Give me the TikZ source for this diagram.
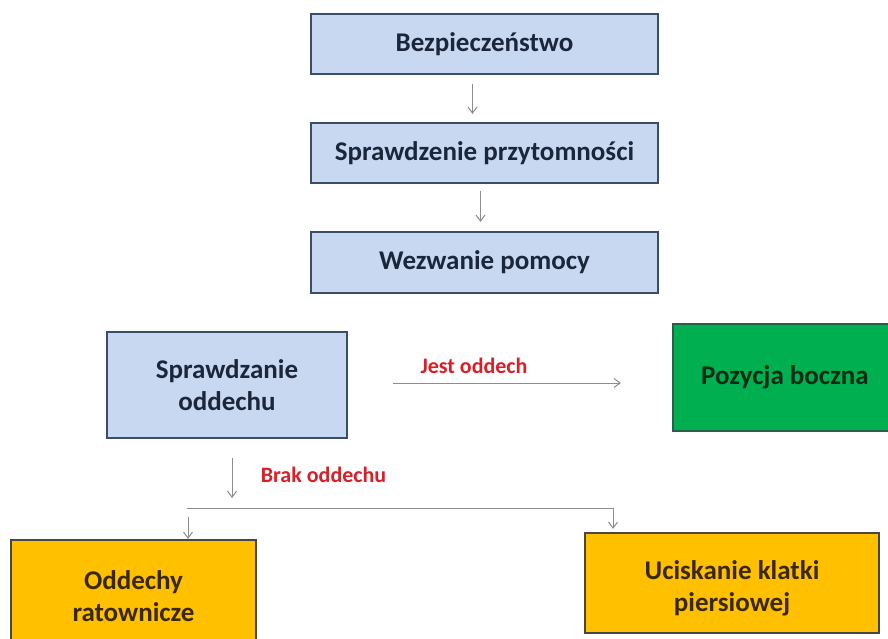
\documentclass[tikz,border=0pt]{standalone}
\usepackage{fontspec}
\setmainfont{Carlito}
\usetikzlibrary{arrows.meta}
\definecolor{bluefill}{RGB}{200,216,240}
\definecolor{blueline}{RGB}{58,78,106}
\definecolor{bluetext}{RGB}{27,38,58}
\definecolor{greenfill}{RGB}{0,176,80}
\definecolor{greenline}{RGB}{47,90,78}
\definecolor{greentext}{RGB}{12,44,22}
\definecolor{orangefill}{RGB}{255,192,0}
\definecolor{orangeline}{RGB}{74,70,66}
\definecolor{orangetext}{RGB}{58,40,8}
\definecolor{labelred}{RGB}{220,30,40}
\definecolor{arrowgray}{RGB}{140,140,140}
\tikzset{
  boxbase/.style={rectangle, line width=2.2pt, inner sep=0pt, align=center,
    font=\fontsize{27}{32}\selectfont\bfseries},
  bluebox/.style={boxbase, draw=blueline, fill=bluefill, text=bluetext},
  greenbox/.style={boxbase, draw=greenline, fill=greenfill, text=greentext},
  orangebox/.style={boxbase, draw=orangeline, fill=orangefill, text=orangetext},
  arr/.style={draw=arrowgray, line width=1pt, -{Straight Barb[length=6pt,width=9pt]}},
  plainline/.style={draw=arrowgray, line width=1pt},
  redlabel/.style={text=labelred, font=\fontsize{22}{24}\selectfont\bfseries, inner sep=0pt}
}
\begin{document}
\begin{tikzpicture}[x=1pt,y=-1pt]
\useasboundingbox (0,0) rectangle (888,639);
\clip (0,0) rectangle (888,639);
\fill[white] (0,0) rectangle (888,639);
\node[bluebox, minimum width=347pt, minimum height=60pt] (b1) at (484.5,44) {Bezpieczeństwo};
\node[bluebox, minimum width=347pt, minimum height=60pt] (b2) at (484.5,153) {Sprawdzenie przytomności};
\node[bluebox, minimum width=347pt, minimum height=61pt] (b3) at (484.5,262.5) {Wezwanie pomocy};
\node[bluebox, minimum width=240pt, minimum height=106pt] (so) at (227,385) {Sprawdzanie\\oddechu};
\node[greenbox, minimum width=224pt, minimum height=107pt] (poz) at (785,377.5) {Pozycja boczna};
\node[orangebox, minimum width=245pt, minimum height=112pt] (od) at (133.5,596) {Oddechy\\ratownicze};
\node[orangebox, minimum width=294pt, minimum height=100pt] (uc) at (732,583) {\rule{0pt}{30pt}Uciskanie klatki\\piersiowej};

\draw[arr, shorten <=9pt, shorten >=8pt] ([xshift=-12pt]b1.south) -- ([xshift=-12pt]b2.north);
\draw[arr, shorten <=7pt, shorten >=9pt] ([xshift=-4pt]b2.south) -- ([xshift=-4pt]b3.north);

\draw[arr, shorten <=45pt, shorten >=51pt] ([yshift=2pt]so.east) -- ([yshift=2pt]so.east -| poz.west);
\node[redlabel] (jest) at (474,366) {Jest oddech};

\coordinate (split) at (232,498);
\draw[arr, shorten <=19pt] ([xshift=5pt]so.south) -- (split);
\node[redlabel] (brak) at (323.5,475) {Brak oddechu};

\coordinate (hl) at (187,508);
\coordinate (hr) at (613,508);
\draw[plainline] (hl) -- (hr);
\draw[arr, shorten >=3pt] (hr) -- (hr |- uc.north);
\draw[arr, shorten <=9pt] ([xshift=1pt]hl) -- ([xshift=1pt]hl |- od.north);
\end{tikzpicture}
\end{document}
